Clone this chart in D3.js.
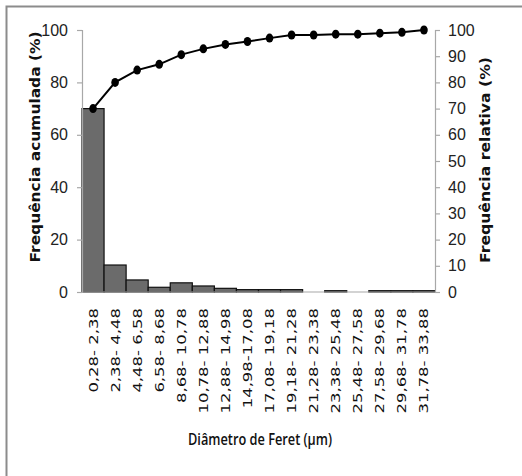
<!DOCTYPE html>
<html>
<head>
<meta charset="utf-8">
<script src="https://cdn.jsdelivr.net/npm/d3@7"></script>
<style>
  html, body { margin: 0; padding: 0; background: #fff; }
  svg { display: block; }
</style>
</head>
<body>
<svg id="chart" width="522" height="476"></svg>
<script>
// Feret diameter classes (µm)
const categories = [
  "0,28- 2,38", "2,38- 4,48", "4,48- 6,58", "6,58- 8,68",
  "8,68- 10,78", "10,78- 12,88", "12,88- 14,98", "14,98-17,08",
  "17,08- 19,18", "19,18- 21,28", "21,28- 23,38", "23,38- 25,48",
  "25,48- 27,58", "27,58- 29,68", "29,68- 31,78", "31,78- 33,88"
];
// Relative frequency per class (%) — bars, right axis
const relativeFreq = [70.0, 10.3, 4.6, 1.8, 3.5, 2.3, 1.4, 0.9, 0.9, 0.9, 0, 0.5, 0, 0.5, 0.5, 0.5];
// Cumulative frequency (%) — line, left axis
const cumulativeFreq = [70.0, 80.0, 84.7, 86.9, 90.6, 92.8, 94.5, 95.6, 96.9, 98.1, 98.1, 98.4, 98.4, 98.8, 99.1, 100];
const leftTicks = [0, 20, 40, 60, 80, 100];
const rightTicks = [0, 10, 20, 30, 40, 50, 60, 70, 80, 90, 100];

const svg = d3.select("#chart");
const plot = { left: 82, right: 435, top: 30, bottom: 292 };
const axisGrey = "#a8a8a8";

// frame
svg.append("rect")
  .attr("x", 6.5).attr("y", 6.5)
  .attr("width", 540).attr("height", 500)
  .attr("fill", "none").attr("stroke", "#8c8c8c").attr("stroke-width", 2);

const x = d3.scaleBand().domain(categories).range([plot.left, plot.right]).padding(0);
const yLeft = d3.scaleLinear().domain([0, 100]).range([plot.bottom, plot.top]);
const yRight = d3.scaleLinear().domain([0, 100]).range([plot.bottom, plot.top]);

// bars (relative frequency)
svg.append("g").selectAll("rect")
  .data(categories.map((c, i) => ({ c, v: relativeFreq[i] })).filter(d => d.v > 0))
  .join("rect")
  .attr("x", d => x(d.c))
  .attr("y", d => yRight(d.v))
  .attr("width", x.bandwidth())
  .attr("height", d => yRight(0) - yRight(d.v))
  .attr("fill", "#6b6b6b")
  .attr("stroke", "#111")
  .attr("stroke-width", 1.2);

// left axis
const gL = svg.append("g").attr("transform", `translate(${plot.left},0)`)
  .call(d3.axisLeft(yLeft).tickValues(leftTicks).tickSize(5).tickPadding(9).tickFormat(d3.format("d")));
// right axis
const gR = svg.append("g").attr("transform", `translate(${plot.right},0)`)
  .call(d3.axisRight(yRight).tickValues(rightTicks).tickSize(5).tickPadding(8).tickFormat(d3.format("d")));
[gL, gR].forEach(g => {
  g.select(".domain").attr("stroke", axisGrey).attr("stroke-width", 1.2);
  g.selectAll(".tick line").attr("stroke", axisGrey).attr("stroke-width", 1.2);
  g.selectAll(".tick text")
    .attr("font-family", "'Liberation Sans Narrow', 'Liberation Sans', sans-serif")
    .attr("font-size", 16).attr("fill", "#222");
});

// category axis baseline
svg.append("line")
  .attr("x1", plot.left).attr("x2", plot.right)
  .attr("y1", yLeft(0)).attr("y2", yLeft(0))
  .attr("stroke", axisGrey).attr("stroke-width", 1.2);

// category labels, rotated
svg.append("g").selectAll("text")
  .data(categories)
  .join("text")
  .attr("transform", d => `translate(${x(d) + x.bandwidth() / 2 + 4.5},${plot.bottom + 16}) rotate(-90) scale(1.32,1)`)
  .attr("text-anchor", "end")
  .attr("font-family", "'DejaVu Sans', Verdana, sans-serif")
  .attr("font-size", 12.5)
  .attr("fill", "#111")
  .text(d => d);

// cumulative line
const line = d3.line()
  .x((d, i) => x(categories[i]) + x.bandwidth() / 2)
  .y(d => yLeft(d));
svg.append("path")
  .datum(cumulativeFreq)
  .attr("d", line)
  .attr("fill", "none")
  .attr("stroke", "#000")
  .attr("stroke-width", 2);
svg.append("g").selectAll("ellipse")
  .data(cumulativeFreq)
  .join("ellipse")
  .attr("cx", (d, i) => x(categories[i]) + x.bandwidth() / 2)
  .attr("cy", d => yLeft(d))
  .attr("rx", 3.8).attr("ry", 4.5)
  .attr("fill", "#000");

// axis titles
svg.append("text")
  .attr("transform", "translate(40,147) rotate(-90)")
  .attr("text-anchor", "middle")
  .attr("font-family", "'DejaVu Sans', Verdana, sans-serif")
  .attr("font-weight", "bold")
  .attr("font-size", 14)
  .attr("textLength", 231).attr("lengthAdjust", "spacingAndGlyphs")
  .attr("fill", "#111")
  .text("Frequência acumulada (%)");

svg.append("text")
  .attr("transform", "translate(490,160) rotate(-90)")
  .attr("text-anchor", "middle")
  .attr("font-family", "'DejaVu Sans', Verdana, sans-serif")
  .attr("font-weight", "bold")
  .attr("font-size", 14)
  .attr("textLength", 206).attr("lengthAdjust", "spacingAndGlyphs")
  .attr("fill", "#111")
  .text("Frequência relativa (%)");

svg.append("text")
  .attr("x", 260).attr("y", 445)
  .attr("text-anchor", "middle")
  .attr("font-family", "'Open Sans', sans-serif")
  .attr("font-weight", 600)
  .attr("font-size", 16)
  .attr("textLength", 144).attr("lengthAdjust", "spacingAndGlyphs")
  .attr("fill", "#111")
  .text("Diâmetro de Feret (µm)");
</script>
</body>
</html>
